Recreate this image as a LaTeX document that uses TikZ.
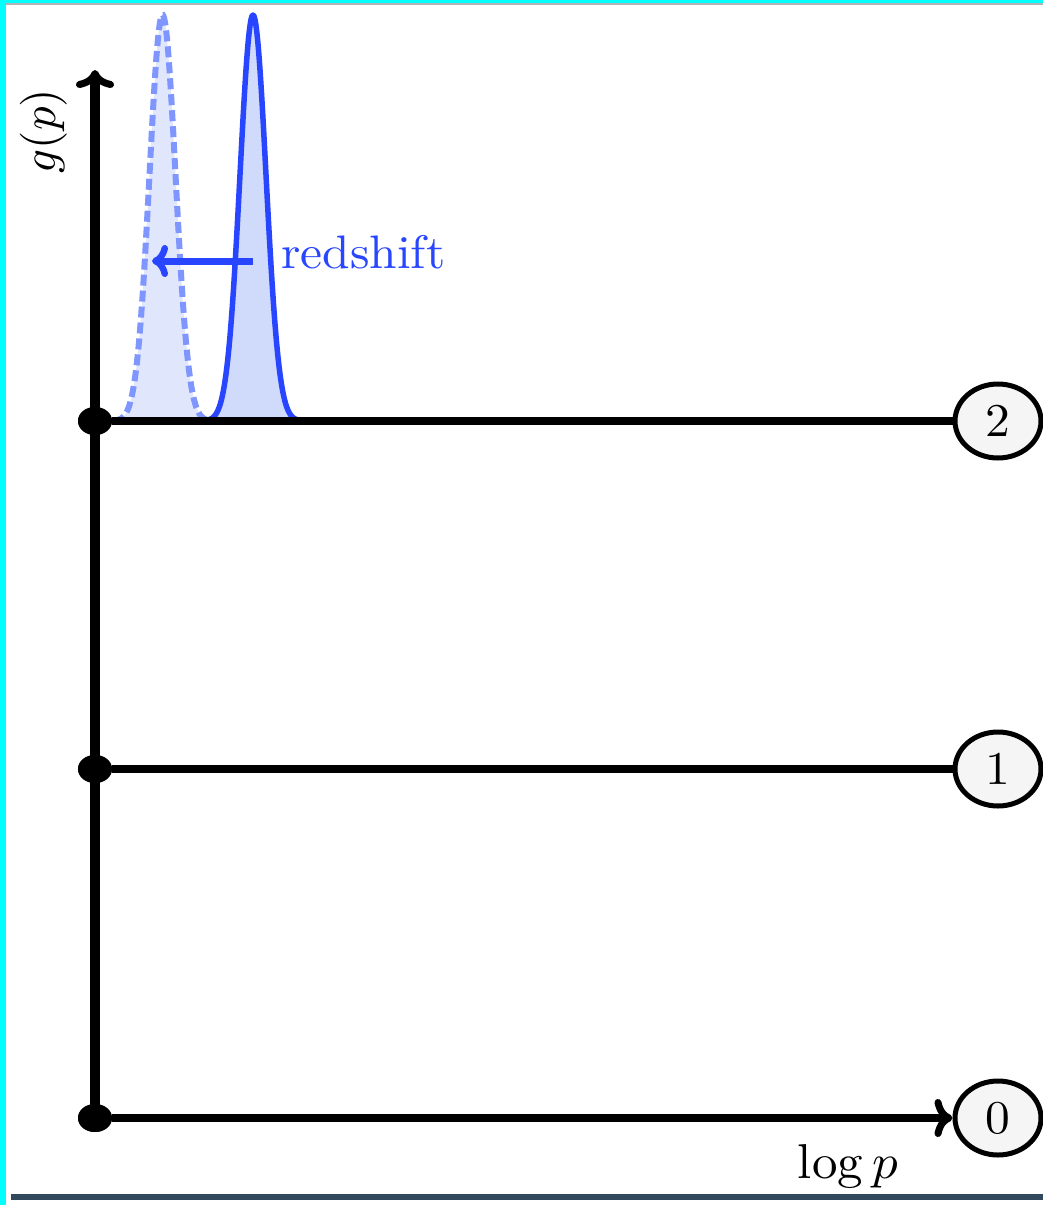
\documentclass[tikz,border=0pt]{standalone}
\usepackage{graphicx}
\usetikzlibrary{shapes.geometric,arrows.meta}
\definecolor{myblue}{RGB}{40,70,255}
\definecolor{dashblue}{RGB}{128,150,255}
\definecolor{fillA}{RGB}{208,218,250}
\definecolor{fillB}{RGB}{224,230,252}
\definecolor{cyanstrip}{RGB}{0,255,255}
\definecolor{barcol}{RGB}{50,72,92}
\definecolor{circfill}{RGB}{245,245,245}
\newcommand{\bigtxt}[1]{\scalebox{4.95}[4.7]{#1}}
\newcommand{\bigmath}[1]{\scalebox{5.1}[4.9]{#1}}
\newcommand{\bigrot}[1]{\scalebox{4.7}{#1}}
\begin{document}
\begin{tikzpicture}[x=1pt,y=-1pt,
  txt/.style={inner sep=0pt},
  dot/.style={ellipse, fill=black, minimum width=34pt, minimum height=28pt, inner sep=0pt},
  state/.style={ellipse, draw=black, line width=5pt, fill=circfill, minimum width=86pt, minimum height=74pt, inner sep=0pt},
  hline/.style={line width=8.5pt, black},
  vline/.style={line width=10pt, black},
  tip/.style={-{Computer Modern Rightarrow[length=18pt,width=38pt,line width=7pt]}},
  solidcurve/.style={line width=5.5pt, draw=myblue, fill=fillA, line join=round},
  dashcurve/.style={line width=6pt, draw=dashblue, fill=fillB, dash pattern=on 11pt off 5pt},
]
\useasboundingbox (0,0) rectangle (1043,1205);
\clip (0,0) rectangle (1043,1205);
\fill[white] (0,0) rectangle (1043,1205);
% screenshot frame
\fill[cyanstrip] (0,0) rectangle (6,1205);
\fill[cyanstrip] (0,0) rectangle (1043,3);
\fill[gray!60] (6,3) rectangle (1043,4.5);
\fill[barcol] (11,1194) rectangle (1043,1200);

% gaussians
\filldraw[dashcurve] plot[domain=114:211, samples=120] (\x, {421-406*exp(-((\x-162.5)^2)/338)});
\filldraw[solidcurve] plot[domain=205:301, samples=120] (\x, {421-406*exp(-((\x-253)^2)/338)});

% nodes
\node[dot] (d2) at (95,421) {};
\node[dot] (d1) at (95,769) {};
\node[dot] (d0) at (95,1118) {};
\node[state] (c2) at (998,421) {\bigtxt{2}};
\node[state] (c1) at (998,769) {\bigtxt{1}};
\node[state] (c0) at (998,1118) {\bigtxt{0}};
\coordinate (ytop) at (95,70);

% axes
\draw[vline, tip] (d0.center) -- (ytop);
\draw[hline] (d2) -- (c2);
\draw[hline] (d1) -- (c1);
\draw[hline, tip] (d0) -- (c0);
\node[dot] at (d2) {};
\node[dot] at (d1) {};
\node[dot] at (d0) {};

% redshift arrow
\coordinate (arrS) at (253,261);
\coordinate (arrE) at (152,261);
\draw[line width=7pt, myblue, -{Computer Modern Rightarrow[length=16pt,width=32pt,line width=6.5pt]}] (arrS) -- (arrE);

% labels
\node[txt, text=myblue, anchor=base west] (rs) at (281,268) {\bigtxt{redshift}};
\node[txt, anchor=base] (lp) at (848,1178) {\bigmath{$\log p$}};
\node[txt, rotate=90, anchor=center] (gp) at (44,131) {\bigrot{$g(p)$}};
\end{tikzpicture}
\end{document}
